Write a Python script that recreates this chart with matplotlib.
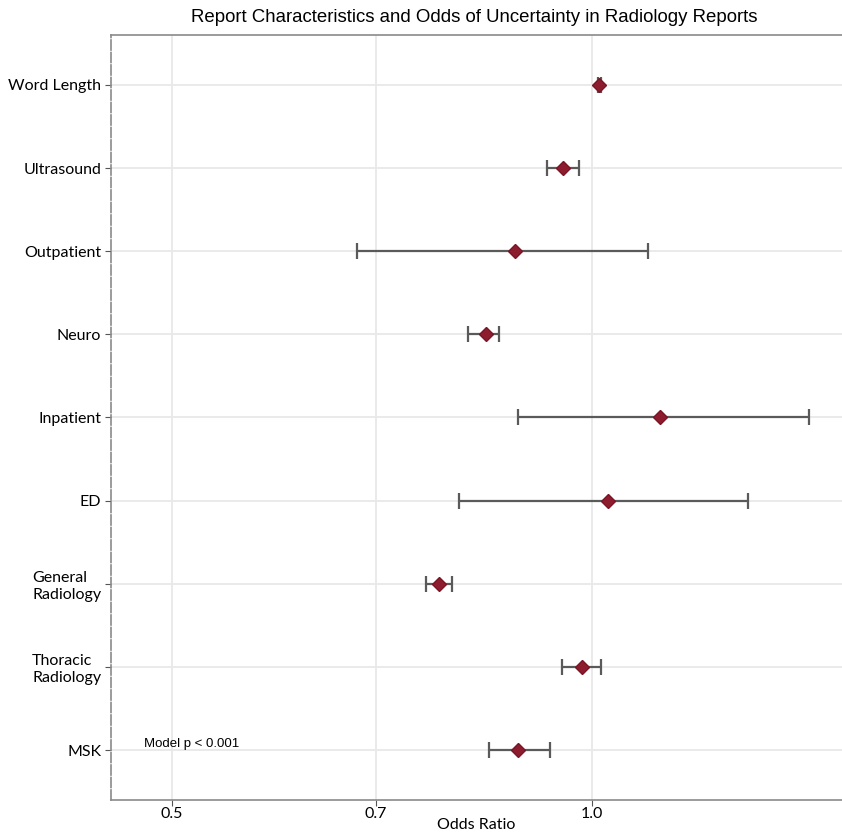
import numpy as np
import matplotlib.pyplot as plt
from matplotlib.ticker import FixedLocator, NullLocator

# odds ratios and 95% CI, top to bottom as shown
labels = ["Word Length", "Ultrasound", "Outpatient", "Neuro", "Inpatient", "ED",
          "General\nRadiology", "Thoracic\nRadiology", "MSK"]
odds = [1.012, 0.953, 0.881, 0.839, 1.119, 1.027, 0.777, 0.984, 0.884]
ci_low = [1.009, 0.928, 0.678, 0.815, 0.885, 0.802, 0.760, 0.951, 0.843]
ci_high = [1.015, 0.979, 1.096, 0.857, 1.431, 1.294, 0.793, 1.015, 0.932]
xticks = [0.5, 0.7, 1.0]
xtick_labels = ["0.5", "0.7", "1.0"]

odds = np.array(odds)
err = np.vstack([odds - np.array(ci_low), np.array(ci_high) - odds])
ypos = np.arange(len(labels))

fig = plt.figure(figsize=(8.42, 8.35), dpi=100)
ax = fig.add_axes([111 / 842, 35 / 835, 731 / 842, 765 / 835])

ax.errorbar(odds, ypos, xerr=err, fmt="none", ecolor="#5a5a5a", elinewidth=1.6,
            capsize=5.5, capthick=1.6, zorder=3)
ax.plot(odds, ypos, "D", ms=7.5, color="#8c1c2e", mec="#7a1526", zorder=4)

ax.set_xscale("log")
ax.set_xlim(0.452, 1.51)
ax.xaxis.set_major_locator(FixedLocator(xticks))
ax.xaxis.set_minor_locator(NullLocator())
ax.set_xticklabels(xtick_labels, fontfamily="Lato", fontsize=11.5)
ax.set_yticks(ypos)
ax.set_yticklabels(labels, fontfamily="Lato", fontsize=11.5, multialignment="left")
ax.set_ylim(len(labels) - 0.4, -0.6)

ax.grid(True, color="#e8e8e8", lw=1.3)
ax.set_axisbelow(True)
ax.tick_params(axis="both", length=4, width=0.8, color="#555555")
ax.tick_params(axis="x", pad=1)
ax.tick_params(axis="y", pad=3)

for side in ["top", "bottom"]:
    ax.spines[side].set_color("#8a8a8a")
    ax.spines[side].set_linewidth(1.2)
ax.spines["left"].set_color("#8a8a8a")
ax.spines["left"].set_linestyle((0, (6, 1.5)))
ax.spines["left"].set_linewidth(1.2)
ax.spines["right"].set_visible(False)

ax.set_xlabel("Odds Ratio", fontfamily="Lato", fontsize=11.5, labelpad=-2)
fig.text(474 / 842, 1 - 18 / 835, "Report Characteristics and Odds of Uncertainty in Radiology Reports",
         ha="center", va="center", fontfamily="Liberation Sans", fontsize=13.4)

ax.text(0.477, ypos[-1] - 0.07, "Model p < 0.001", fontfamily="Liberation Sans",
        fontsize=9.5, ha="left", va="center")

fig.savefig("out.png", dpi=100)
